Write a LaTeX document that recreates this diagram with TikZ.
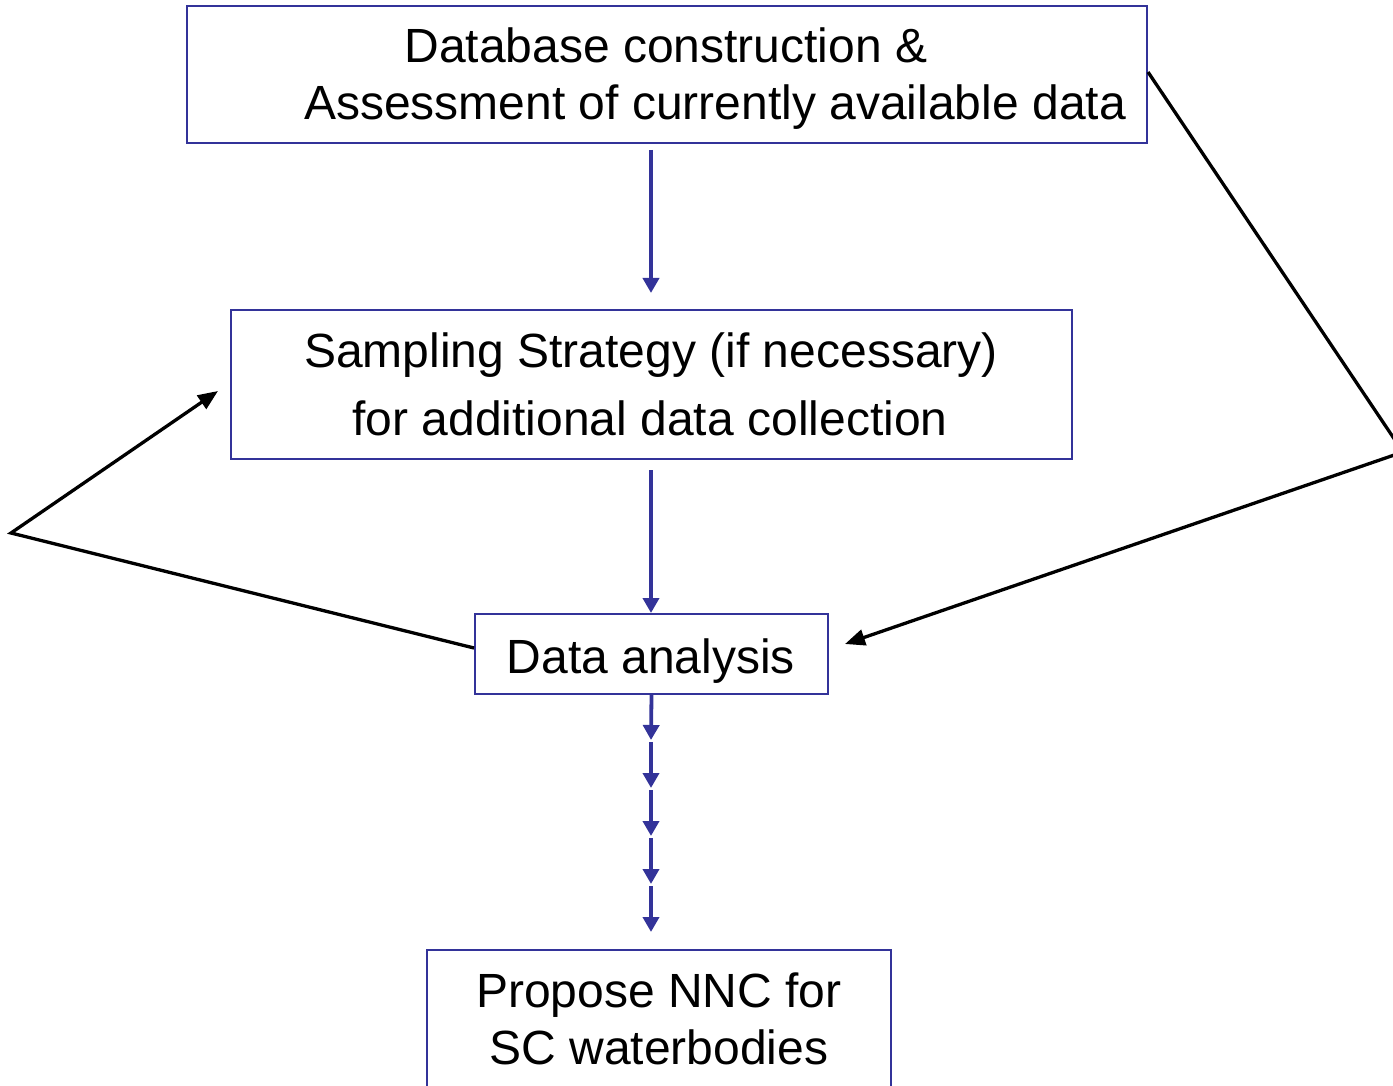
\documentclass[tikz,border=0pt]{standalone}
\usepackage{fontspec}
\setmainfont{Liberation Sans}
\usetikzlibrary{arrows.meta,calc}
\definecolor{boxblue}{RGB}{51,51,153}
\begin{document}
\begin{tikzpicture}[x=1pt,y=-1pt,
  box/.style={draw=boxblue,line width=2pt,inner sep=0pt,fill=none},
  txt/.style={font=\fontsize{48}{57}\selectfont,inner sep=0pt,anchor=base},
  blarrow/.style={draw=boxblue,line width=3.8pt,-{Triangle[length=15pt,width=16pt]}},
  bkarrow/.style={draw=black,line width=3.3pt,-{Triangle[length=20pt,width=16pt]}}]
\useasboundingbox (0,0) rectangle (1393,1086);
\clip (0,0) rectangle (1393,1086);
% boxes
\node[box,minimum width=960pt,minimum height=137pt] (db) at (667,74.5) {};
\node[box,minimum width=841pt,minimum height=149pt] (ss) at (651.5,384.5) {};
\node[box,minimum width=353pt,minimum height=80pt] (da) at (651.5,654) {};
\node[box,minimum width=464pt,minimum height=160pt] (nnc) at (659,1030) {};
% texts
\node[txt] (t1) at (666,63) {Database construction \&};
\node[txt] (t2) at (715,120) {Assessment of currently available data};
\node[txt] (t3) at (651,367) {Sampling Strategy (if necessary)};
\node[txt] (t4) at (650,435) {for additional data collection};
\node[txt] (t5) at (651,673) {Data analysis};
\node[txt] (t6) at (659,1007) {Propose NNC for};
\node[txt] (t7) at (659,1064) {SC waterbodies};
% blue arrows
\coordinate (a1s) at (651,150);
\coordinate (a1e) at (651,293);
\coordinate (a2s) at (651,470);
\coordinate (a2e) at (651,613);
\draw[blarrow] (a1s) -- (a1e);
\draw[blarrow] (a2s) -- (a2e);
\coordinate (c1e) at (651,740);
\coordinate (c2s) at (651,742);
\coordinate (c2e) at (651,788);
\coordinate (c3s) at (651,790);
\coordinate (c3e) at (651,836);
\coordinate (c4s) at (651,838);
\coordinate (c4e) at (651,884);
\coordinate (c5s) at (651,886);
\coordinate (c5e) at (651,932);
\draw[blarrow] (da.south) -- (c1e);
\draw[blarrow] (c2s) -- (c2e);
\draw[blarrow] (c3s) -- (c3e);
\draw[blarrow] (c4s) -- (c4e);
\draw[blarrow] (c5s) -- (c5e);
% black feedback arrows
\coordinate (lv) at (11,533);
\coordinate (ltip) at (218,391);
\coordinate (rv) at (1403,452);
\coordinate (rtip) at (845,644);
\draw[bkarrow,line join=miter] ($(da.west)+(0,-6)$) -- (lv) -- (ltip);
\draw[bkarrow,line join=miter] ($(db.east)+(0,-2.5)$) -- (rv) -- (rtip);
\end{tikzpicture}
\end{document}
